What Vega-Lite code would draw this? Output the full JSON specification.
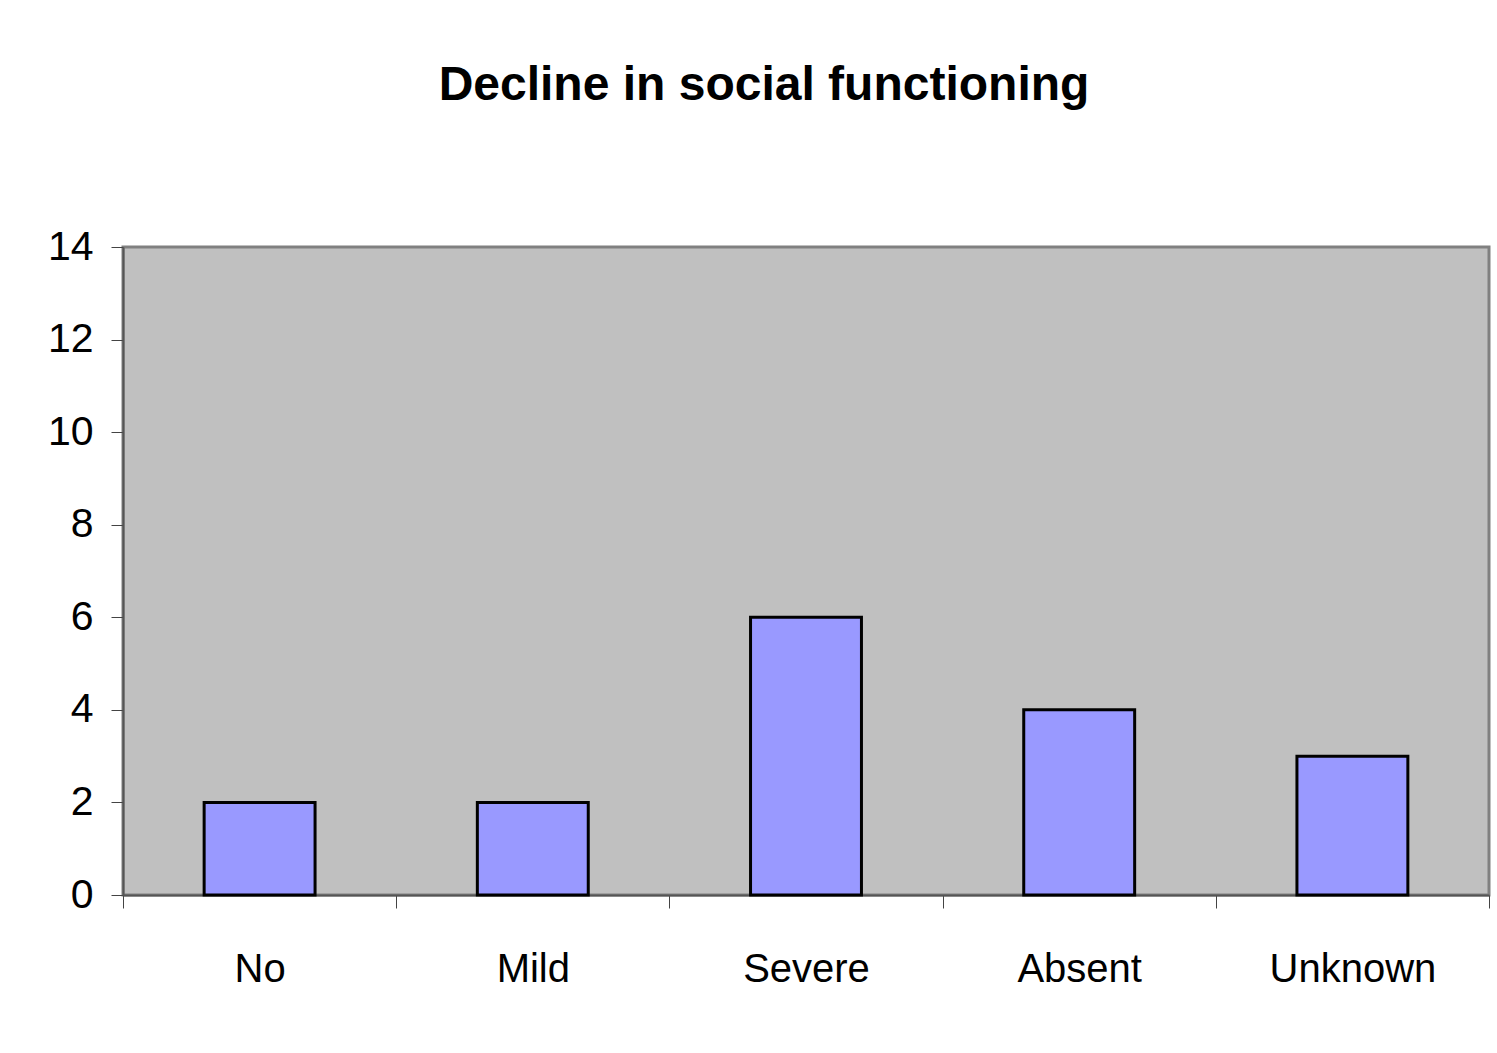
{
  "$schema": "https://vega.github.io/schema/vega-lite/v6.json",
  "autosize": "none",
  "width": 1366,
  "height": 648,
  "padding": {"left": 123, "top": 247, "right": 8, "bottom": 158},
  "background": "white",
  "title": {
    "text": "Decline in social functioning",
    "font": "Liberation Sans",
    "fontSize": 48,
    "fontWeight": "bold",
    "color": "black",
    "anchor": "middle",
    "dx": -42,
    "offset": 78,
    "baseline": "alphabetic"
  },
  "config": {
    "view": {"fill": "#C0C0C0", "stroke": "#808080", "strokeWidth": 3}
  },
  "data": {
    "values": [
      {"category": "No", "value": 2},
      {"category": "Mild", "value": 2},
      {"category": "Severe", "value": 6},
      {"category": "Absent", "value": 4},
      {"category": "Unknown", "value": 3}
    ]
  },
  "mark": {"type": "bar", "fill": "#9999FF", "stroke": "black", "strokeWidth": 3, "width": {"band": 0.406}},
  "encoding": {
    "x": {
      "field": "category",
      "type": "nominal",
      "sort": null,
      "scale": {"paddingInner": 0, "paddingOuter": 0},
      "axis": {
        "title": null,
        "labelAngle": 0,
        "labelFont": "Liberation Sans",
        "labelFontSize": 40,
        "labelColor": "black",
        "labelPadding": 41,
        "labelLimit": 0,
        "tickBand": "extent",
        "tickSize": 13,
        "tickColor": "#444444",
        "domainColor": "#555555",
        "domainWidth": 2
      }
    },
    "y": {
      "field": "value",
      "type": "quantitative",
      "scale": {"domain": [0, 14]},
      "axis": {
        "title": null,
        "values": [0, 2, 4, 6, 8, 10, 12, 14],
        "grid": false,
        "labelFont": "Liberation Sans",
        "labelFontSize": 41,
        "labelColor": "black",
        "labelPadding": 18,
        "tickSize": 12,
        "tickColor": "#444444",
        "domainColor": "#555555",
        "domainWidth": 2
      }
    }
  }
}
